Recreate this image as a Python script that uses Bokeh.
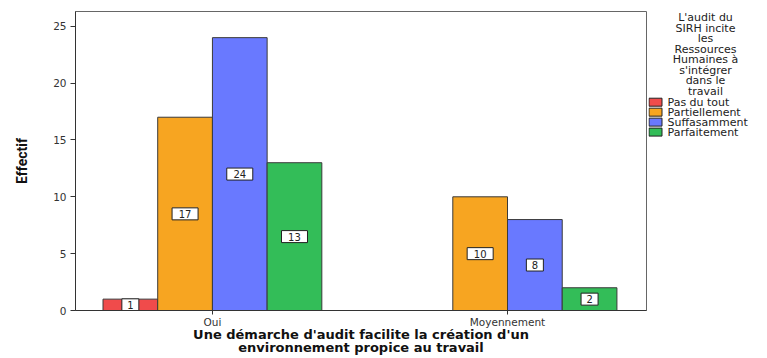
from bokeh.plotting import figure
from bokeh.layouts import row
from bokeh.models import ColumnDataSource, FixedTicker, Range1d
from bokeh.core.properties import value
from bokeh.embed import file_html
from bokeh.resources import INLINE

# Data
categories = ["Oui", "Moyennement"]
series = ["Pas du tout", "Partiellement", "Suffasamment", "Parfaitement"]
pas_du_tout = [1, 0]
partiellement = [17, 10]
suffasamment = [24, 8]
parfaitement = [13, 2]
colors = ["#f04b4b", "#f7a521", "#6979ff", "#33bd58"]
legend_title = ["L'audit du", "SIRH incite", "les", "Ressources", "Humaines à",
                "s'intégrer", "dans le", "travail"]

values = [pas_du_tout, partiellement, suffasamment, parfaitement]
bar_w = 0.1854
offsets = [-1.5 * bar_w, -0.5 * bar_w, 0.5 * bar_w, 1.5 * bar_w]

FONT = "DejaVu Sans"
INK = "#222222"
TOP, BOTTOM = 11, 47

# Main chart
p = figure(width=648, height=358, output_backend="svg", toolbar_location=None,
           x_range=Range1d(-0.464, 1.471), y_range=Range1d(0, 26.3),
           min_border_left=75, min_border_right=2, min_border_top=TOP,
           min_border_bottom=BOTTOM)
p.xgrid.visible = False
p.ygrid.visible = False
p.outline_line_color = "#666666"

for name, vals, off, col in zip(series, values, offsets, colors):
    xs, ys, txt, mid, bw = [], [], [], [], []
    for i, v in enumerate(vals):
        if v > 0:
            xs.append(i + off)
            ys.append(v)
            txt.append(str(v))
            mid.append(v / 2)
            bw.append(8 + 9 * len(str(v)))
    src = ColumnDataSource(dict(x=xs, top=ys, text=txt, mid=mid, bw=bw))
    p.vbar(x="x", top="top", width=bar_w, bottom=0, source=src,
           fill_color=col, line_color="#3a3a3a", line_width=1)
    # value tags: white box with the count in the middle of each bar
    p.rect(x="x", y="mid", width="bw", height=12, width_units="screen",
           height_units="screen", source=src, fill_color="white",
           line_color=INK, line_width=1)
    p.text(x="x", y="mid", text="text", source=src, text_align="center",
           text_baseline="middle", text_font=value(FONT),
           text_font_size="10px", text_color=INK)

# Axes
p.xaxis.ticker = FixedTicker(ticks=[0, 1])
p.xaxis.major_label_overrides = {0: categories[0], 1: categories[1]}
p.yaxis.ticker = FixedTicker(ticks=[0, 5, 10, 15, 20, 25])
for ax in (p.xaxis, p.yaxis):
    ax.major_label_text_font = FONT
    ax.major_label_text_font_size = "10.5px"
    ax.major_label_text_color = "#333333"
    ax.axis_line_color = "#333333"
    ax.major_tick_line_color = "#333333"
    ax.major_tick_out = 5
    ax.major_tick_in = 0
    ax.minor_tick_line_color = None
p.xaxis.major_tick_out = 4
p.xaxis.major_label_standoff = 1
p.yaxis.major_label_standoff = 4

p.xaxis.axis_label = "Une démarche d'audit facilite la création d'un\nenvironnement propice au travail"
p.xaxis.axis_label_text_font = FONT
p.xaxis.axis_label_text_font_style = "bold"
p.xaxis.axis_label_text_font_size = "13px"
p.xaxis.axis_label_text_color = "#111111"
p.xaxis.axis_label_text_line_height = 0.9
p.xaxis.axis_label_standoff = -4

p.yaxis.axis_label = "Effectif"
p.yaxis.axis_label_text_font = "Roboto"
p.yaxis.axis_label_text_font_style = "bold"
p.yaxis.axis_label_text_font_size = "14px"
p.yaxis.axis_label_text_color = "#111111"
p.yaxis.axis_label_standoff = 20

# Legend panel, in page pixel coordinates (y downwards)
lg = figure(width=119, height=358, output_backend="svg", toolbar_location=None,
            x_range=Range1d(0, 119), y_range=Range1d(358 - BOTTOM, TOP),
            min_border_left=0, min_border_right=0, min_border_top=TOP,
            min_border_bottom=BOTTOM, outline_line_color=None)
lg.axis.visible = False
lg.grid.visible = False

title_top, title_step = 17, 10.6
lg.text(x=[57] * len(legend_title),
        y=[title_top + k * title_step for k in range(len(legend_title))],
        text=legend_title, text_align="center", text_baseline="middle",
        text_font=value(FONT), text_font_size="11px", text_color=INK)

item_top, item_step = 102, 10
ys = [item_top + k * item_step for k in range(len(series))]
lg.rect(x=[7] * len(series), y=ys, width=13, height=8, fill_color=colors,
        line_color=INK, line_width=1)
lg.text(x=[19] * len(series), y=ys, text=series, text_align="left",
        text_baseline="middle", text_font=value(FONT), text_font_size="11px",
        text_color=INK)

layout = row(p, lg, spacing=0)
open("out.html", "w").write(file_html(layout, INLINE))
